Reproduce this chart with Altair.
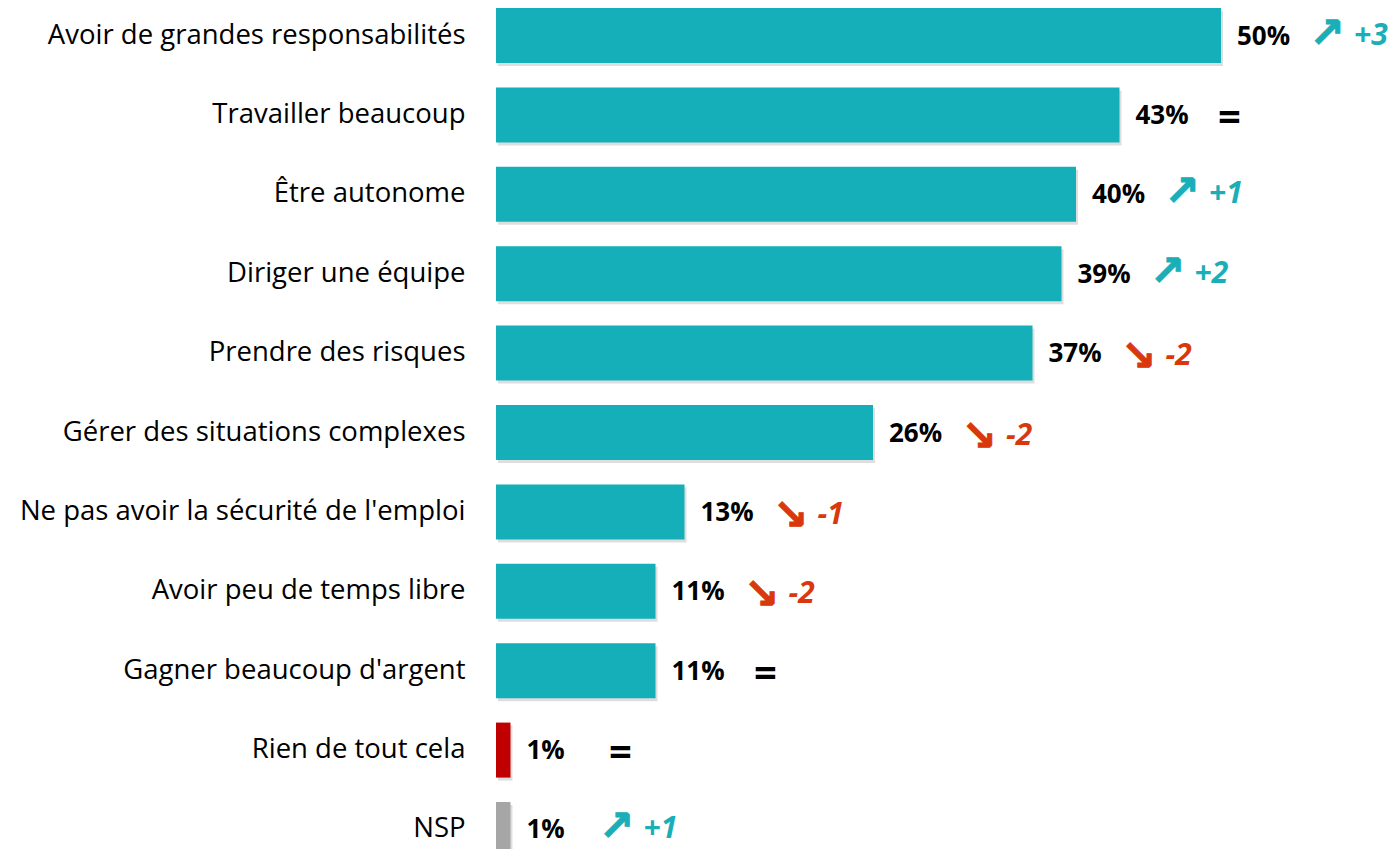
import altair as alt
import pandas as pd

categories = [
    "Avoir de grandes responsabilités",
    "Travailler beaucoup",
    "Être autonome",
    "Diriger une équipe",
    "Prendre des risques",
    "Gérer des situations complexes",
    "Ne pas avoir la sécurité de l'emploi",
    "Avoir peu de temps libre",
    "Gagner beaucoup d'argent",
    "Rien de tout cela",
    "NSP",
]
values = [50, 43, 40, 39, 37, 26, 13, 11, 11, 1, 1]
changes = [3, 0, 1, 2, -2, -2, -1, -2, 0, 0, 1]

TEAL = "#14AFB8"
RED_BAR = "#C00000"
GREY = "#A6A6A6"
UP = "#1AAFB8"
DOWN = "#D9380D"
FONT = "Open Sans"

df = pd.DataFrame({
    "cat": categories,
    "value": values,
    "change": changes,
})
df["label"] = [f"{v}%" for v in values]
df["arrow"] = ["↗" if c > 0 else ("↘" if c < 0 else "=") for c in changes]
df["clabel"] = [f"+{c}" if c > 0 else (f"{c}" if c < 0 else "") for c in changes]

bar_colors = [TEAL] * 9 + [RED_BAR, GREY]

y = alt.Y(
    "cat:N",
    sort=categories,
    title=None,
    scale=alt.Scale(range=[0, 849], paddingInner=0.307, paddingOuter=0),
    axis=alt.Axis(domain=False, ticks=False, labelFontSize=27.5, labelFont=FONT,
                  labelColor="#000000", labelPadding=31, labelLimit=0),
)
x = alt.X("value:Q", scale=alt.Scale(domain=[0, 60]), axis=None)

base = alt.Chart(df)

shadow = base.mark_bar(clip=True, color="#000000", opacity=0.13, xOffset=2, yOffset=3).encode(
    x=x, y=y)

bars = base.mark_bar(clip=True).encode(
    x=x, y=y,
    color=alt.Color("cat:N", scale=alt.Scale(domain=categories, range=bar_colors), legend=None),
)

vals = base.mark_text(align="left", baseline="middle", dx=16, dy=1, font=FONT,
                      fontSize=26, fontWeight="bold", color="#000000").encode(
    x=x, y=y, text="label:N")

up_arrows = base.transform_filter("datum.change > 0").mark_text(
    align="center", baseline="middle", dx=106, dy=-2, font="DejaVu Sans", fontSize=42,
    fontWeight="bold", color=UP, stroke=UP, strokeWidth=1).encode(
    x=x, y=y, text="arrow:N")

down_arrows = base.transform_filter("datum.change < 0").mark_text(
    align="center", baseline="middle", dx=106, dy=4, font="DejaVu Sans", fontSize=42,
    fontWeight="bold", color=DOWN, stroke=DOWN, strokeWidth=1).encode(
    x=x, y=y, text="arrow:N")

equals = base.transform_filter("datum.change == 0").mark_text(
    align="center", baseline="middle", dx=110, dy=4, font=FONT, fontSize=40,
    fontWeight="bold", color="#000000").encode(x=x, y=y, text="arrow:N")

up_labels = base.transform_filter("datum.change > 0").mark_text(
    align="left", baseline="middle", dx=133, dy=0, font=FONT, fontSize=30,
    fontWeight="bold", fontStyle="italic", color=UP).encode(
    x=x, y=y, text="clabel:N")

down_labels = base.transform_filter("datum.change < 0").mark_text(
    align="left", baseline="middle", dx=133, dy=3, font=FONT, fontSize=30,
    fontWeight="bold", fontStyle="italic", color=DOWN).encode(
    x=x, y=y, text="clabel:N")

chart = alt.layer(shadow, bars, vals, up_arrows, down_arrows, equals, up_labels,
                  down_labels).properties(
    width=870, height=841,
    autosize=alt.AutoSizeParams(type="none"),
    padding={"left": 488, "top": 0, "right": 22, "bottom": 0},
).configure_view(stroke=None)

chart.save("out.html", embed_options={"renderer": "svg", "actions": False})
